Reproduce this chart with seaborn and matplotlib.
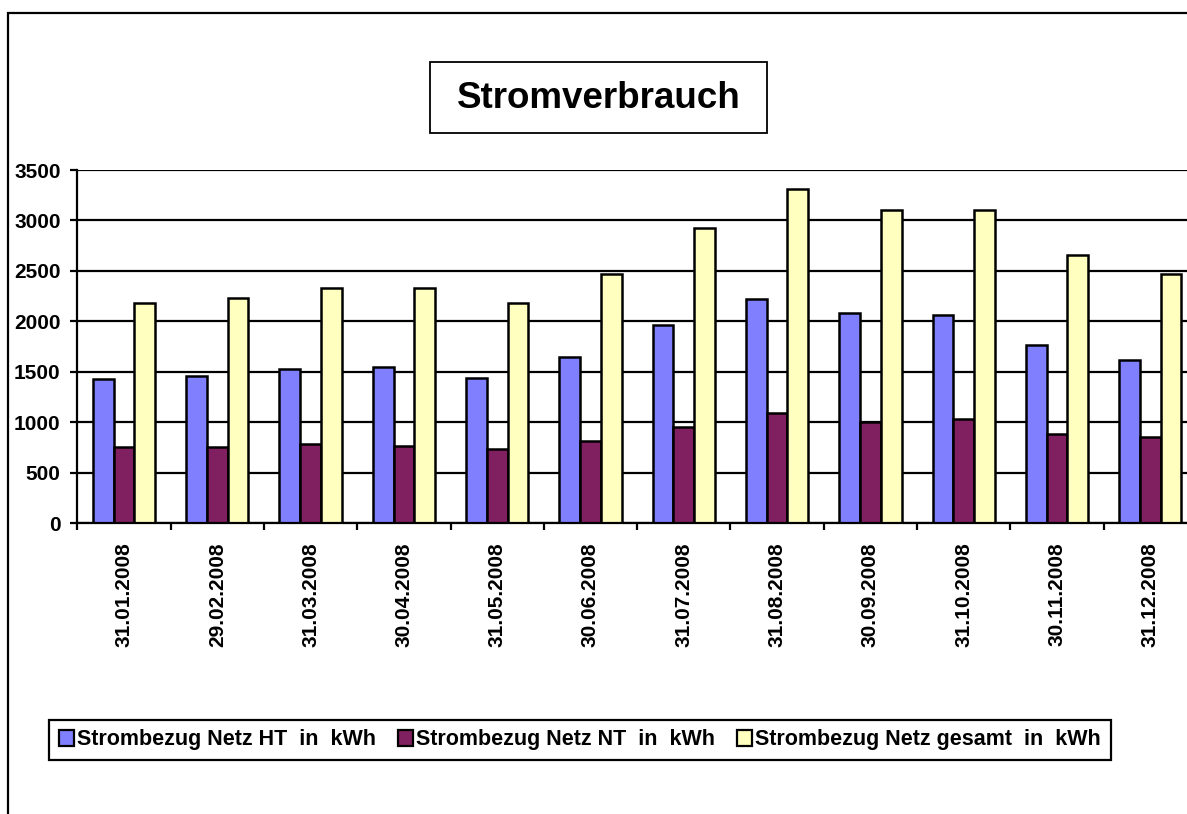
import matplotlib
matplotlib.use("Agg")
import matplotlib.pyplot as plt
from matplotlib.patches import Rectangle, Patch
import numpy as np
import pandas as pd
import seaborn as sns

sns.set_theme(style="white")
plt.rcParams['font.family'] = ['Liberation Sans', 'DejaVu Sans']
plt.rcParams['text.color'] = 'black'
plt.rcParams['xtick.color'] = 'black'
plt.rcParams['ytick.color'] = 'black'

dates = ['31.01.2008', '29.02.2008', '31.03.2008', '30.04.2008', '31.05.2008', '30.06.2008',
         '31.07.2008', '31.08.2008', '30.09.2008', '31.10.2008', '30.11.2008', '31.12.2008']
ht = [1429, 1462, 1528, 1545, 1436, 1647, 1967, 2219, 2083, 2063, 1769, 1615]
nt = [753, 759, 789, 767, 736, 815, 954, 1090, 1003, 1036, 885, 858]
gesamt = [2185, 2235, 2331, 2331, 2179, 2466, 2925, 3315, 3100, 3107, 2661, 2470]
series = ['Strombezug Netz HT  in  kWh', 'Strombezug Netz NT  in  kWh', 'Strombezug Netz gesamt  in  kWh']
colors = ['#8080FF', '#802060', '#FFFFC0']

df = pd.DataFrame({
    'Datum': dates * 3,
    'Reihe': [series[0]] * 12 + [series[1]] * 12 + [series[2]] * 12,
    'Wert': ht + nt + gesamt,
})

W, H = 1187, 814
fig = plt.figure(figsize=(W / 100, H / 100), dpi=100)
ax = fig.add_axes([77.3 / W, 1 - 523.3 / H, (1197 - 77.3) / W, (523.3 - 170) / H])

sns.barplot(data=df, x='Datum', y='Wert', hue='Reihe', hue_order=series, palette=colors,
            width=2 / 3, edgecolor='black', linewidth=1.8, saturation=1, legend=False, ax=ax)

ax.set_xlim(-0.5, 11.5)
ax.set_ylim(0, 3500)
ax.set_yticks(np.arange(0, 3501, 500))
ax.set_xlabel('')
ax.set_ylabel('')
ax.set_axisbelow(True)
ax.yaxis.grid(True, color='black', linewidth=1.6)
ax.xaxis.grid(False)
for side in ['top', 'right']:
    ax.spines[side].set_visible(False)
for side in ['left', 'bottom']:
    ax.spines[side].set_color('black')
    ax.spines[side].set_linewidth(1.6)

ax.set_xticks(np.arange(-0.5, 12, 1), minor=True)
ax.tick_params(axis='x', which='major', length=0, pad=14)
ax.tick_params(axis='x', which='minor', length=5, width=1.6, color='black', direction='out', bottom=True)
ax.tick_params(axis='y', length=5, width=1.6, color='black', direction='out', left=True, pad=7)
for lab in ax.get_xticklabels():
    lab.set_rotation(90)
    lab.set_fontsize(15)
    lab.set_fontweight('bold')
    lab.set_va('top')
    lab.set_ha('center')
for lab in ax.get_yticklabels():
    lab.set_fontsize(15)
    lab.set_fontweight('bold')

# outer chart border (clipped on the right and bottom like the original)
fig.patches.append(Rectangle((8 / W, -0.05), 1.2, 1 - 13 / H + 0.05, transform=fig.transFigure,
                             fill=False, edgecolor='black', linewidth=1.6))

# title box
fig.patches.append(Rectangle((430 / W, 1 - 133 / H), 337 / W, 71 / H, transform=fig.transFigure,
                             fill=False, edgecolor='black', linewidth=1.3))
fig.text(598.5 / W, 1 - 98 / H, 'Stromverbrauch', ha='center', va='center',
         fontsize=26.5, fontweight='bold')

handles = [Patch(facecolor=c, edgecolor='black', linewidth=1.6) for c in colors]
leg = fig.legend(handles, series, loc='center', bbox_to_anchor=(580 / W, 1 - 740 / H), ncol=3,
                 frameon=True, fancybox=False, edgecolor='black', framealpha=1,
                 prop={'size': 15.5, 'weight': 'bold'}, handlelength=0.7, handleheight=0.7,
                 handletextpad=0.15, columnspacing=1.0, borderpad=0.45)
leg.get_frame().set_linewidth(1.6)

fig.savefig('out.png', dpi=100)
